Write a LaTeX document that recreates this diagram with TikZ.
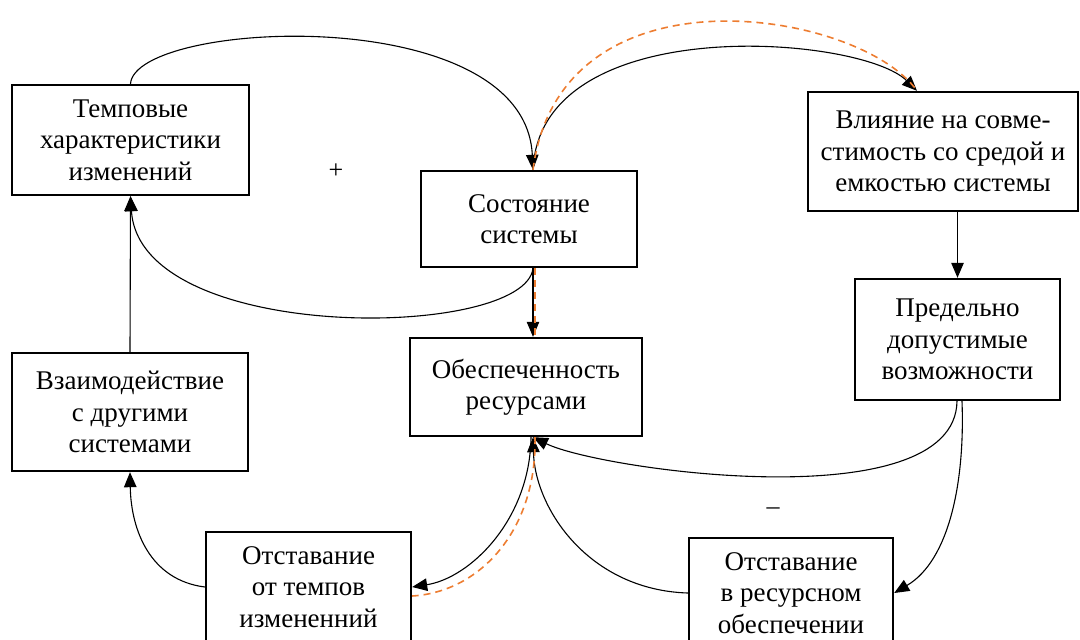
\documentclass[tikz,border=0pt]{standalone}
\usepackage{fontspec}
\setmainfont{Liberation Serif}
\usetikzlibrary{arrows.meta}
\definecolor{orangeline}{HTML}{ED7D31}
\begin{document}
\begin{tikzpicture}[x=1pt,y=-1pt,
  box/.style={draw, line width=2.4pt, rectangle, align=center, inner sep=0pt,
    font=\fontsize{27}{31.5}\selectfont},
  link/.style={line width=1.1pt, -{Triangle[length=15pt,width=12.5pt]}},
  loopline/.style={draw=orangeline, line width=1.6pt, dash pattern=on 7pt off 5pt},
  sign/.style={font=\fontsize{26}{31}\selectfont, inner sep=0pt}
]
\useasboundingbox (0,0) rectangle (1080,640);

% blocks
\node[box, minimum width=237pt, minimum height=110pt] (tempo) at (130.5,140)
  {Темповые\\характеристики\\изменений};
\node[box, minimum width=216pt, minimum height=96pt] (state) at (529,219)
  {Состояние\\системы};
\node[box, minimum width=270pt, minimum height=119pt] (infl) at (943,151.5)
  {Влияние на совме-\\стимость со средой и\\емкостью системы};
\node[box, minimum width=205pt, minimum height=121pt] (limit) at (957.5,339.5)
  {Предельно\\допустимые\\возможности};
\node[box, minimum width=232pt, minimum height=98pt] (res) at (526,387)
  {Обеспеченность\\ресурсами};
\node[box, minimum width=236pt, minimum height=118pt] (inter) at (130,412)
  {Взаимодействие\\с другими\\системами};
\node[box, minimum width=205pt, minimum height=110pt] (lagtempo) at (308.5,587)
  {Отставание\\от темпов\\измененний};
\node[box, minimum width=204pt, minimum height=110pt] (lagres) at (791,593)
  {Отставание\\в ресурсном\\обеспечении};

% loop signs
\node[sign] (plus) at (336,171) {+};
\node[sign] (minus) at (773,511) {–};

% connectors
\draw[link] (tempo.north) .. controls (135,20) and (525,0) .. ([xshift=4pt]state.north);
\draw[link] ([xshift=4pt]state.north) .. controls (540,10) and (860,35) .. ([xshift=-26pt]infl.north);
\draw[link] ([xshift=4pt]state.south) .. controls (525,340) and (140,345) .. (tempo.south);
\draw[link] ([xshift=4pt]state.south) -- ([xshift=7pt]res.north);
\draw[link] (limit.north |- infl.south) -- (limit.north);
\draw[link] (inter.north) -- (tempo.south);
\draw[link] ([xshift=-0.5pt]limit.south) .. controls (955,520) and (600,470) .. ([xshift=7pt]res.south);
\draw[link] ([xshift=4.5pt]limit.south) .. controls (965,480) and (950,560) .. (lagres.east);
\draw[link] (lagres.west) .. controls (590,590) and (535,510) .. ([xshift=7pt]res.south);
\draw[link] ([xshift=5pt]res.south) .. controls (530,520) and (470,578) .. (lagtempo.east);
\draw[link] (lagtempo.west) .. controls (150,580) and (131,530) .. (inter.south);

% highlighted loop
\draw[loopline] ([xshift=4pt]state.north) .. controls (560,-40) and (860,10) .. ([xshift=-26pt]infl.north);
\draw[loopline] ([xshift=6pt]state.south) -- ([xshift=9pt]res.north);
\draw[loopline] ([xshift=9pt]res.south) .. controls (537,530) and (480,592) .. ([yshift=-9pt]lagtempo.east);
\end{tikzpicture}
\end{document}
